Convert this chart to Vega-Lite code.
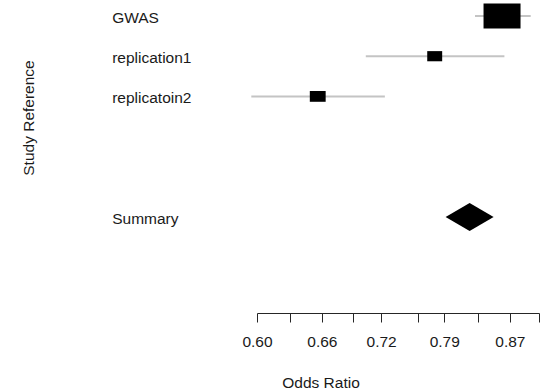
{
  "$schema": "https://vega.github.io/schema/vega-lite/v6.json",
  "width": 282,
  "height": 313,
  "autosize": "none",
  "padding": {"left": 257, "top": 0, "right": 3, "bottom": 79},
  "background": "white",
  "config": {"view": {"stroke": null}, "font": "Liberation Sans"},
  "data": {
    "values": [
      {"study": "GWAS", "row": 0, "or": 0.860, "lower": 0.8265, "upper": 0.897, "weight": 147, "kind": "study"},
      {"study": "replication1", "row": 1, "or": 0.779, "lower": 0.704, "upper": 0.863, "weight": 24, "kind": "study"},
      {"study": "replicatoin2", "row": 2, "or": 0.656, "lower": 0.595, "upper": 0.724, "weight": 27, "kind": "study"},
      {"study": "Summary", "row": 5, "or": 0.820, "lower": 0.792, "upper": 0.850, "weight": null, "kind": "summary"}
    ]
  },
  "encoding": {
    "y": {
      "field": "row",
      "type": "quantitative",
      "scale": {"domain": [-0.398, 7.388], "reverse": true, "nice": false, "zero": false},
      "axis": {
        "title": "Study Reference",
        "labels": false,
        "ticks": false,
        "domain": false,
        "grid": false,
        "titleX": -224,
        "titleY": 117.5,
        "titleAngle": -90,
        "titleBaseline": "alphabetic",
        "titleAlign": "center",
        "titleFontSize": 15.5,
        "titleFontWeight": "normal",
        "titleColor": "#1a1a1a"
      }
    }
  },
  "layer": [
    {
      "transform": [{"filter": "datum.kind === 'study'"}],
      "mark": {"type": "rule", "color": "#c4c4c4", "strokeWidth": 2},
      "encoding": {
        "x": {
          "field": "lower",
          "type": "quantitative",
          "title": "Odds Ratio",
          "scale": {"type": "log", "domain": [0.6, 0.908], "nice": false, "zero": false},
          "axis": {
            "title": "Odds Ratio",
            "values": [0.6, 0.63, 0.66, 0.691, 0.72, 0.76, 0.79, 0.83, 0.87, 0.908],
            "labelExpr": "indexof([0.6, 0.66, 0.72, 0.79, 0.87], datum.value) >= 0 ? format(datum.value, '.2f') : ''",
            "grid": false,
            "tickSize": 9,
            "tickColor": "#262626",
            "domainColor": "#262626",
            "labelFontSize": 15.5,
            "labelColor": "#1a1a1a",
            "labelPadding": 12,
            "labelFlush": false,
            "labelOverlap": false,
            "titleFontSize": 15.5,
            "titleFontWeight": "normal",
            "titleColor": "#1a1a1a",
            "titleX": 63.5,
            "titleY": 74.5,
            "titleBaseline": "alphabetic",
            "titleAlign": "center"
          }
        },
        "x2": {"field": "upper"}
      }
    },
    {
      "transform": [{"filter": "datum.kind === 'study'"}],
      "mark": {"type": "point", "shape": "M-1,-0.68H1V0.68H-1Z", "filled": true, "color": "black", "opacity": 1},
      "encoding": {
        "x": {"field": "or", "type": "quantitative", "title": "Odds Ratio"},
        "size": {
          "field": "weight",
          "type": "quantitative",
          "scale": {"domain": [0, 147], "range": [0, 1369]},
          "legend": null
        }
      }
    },
    {
      "transform": [{"filter": "datum.kind === 'summary'"}],
      "mark": {"type": "point", "shape": "M-1,0L0,-0.58L1,0L0,0.58Z", "filled": true, "color": "black", "opacity": 1, "size": 2304},
      "encoding": {
        "x": {"field": "or", "type": "quantitative", "title": "Odds Ratio"}
      }
    },
    {
      "mark": {"type": "text", "align": "left", "baseline": "middle", "fontSize": 15.5, "color": "#1a1a1a", "dy": 2},
      "encoding": {
        "x": {"datum": 0.485, "type": "quantitative"},
        "text": {"field": "study"}
      }
    }
  ]
}
